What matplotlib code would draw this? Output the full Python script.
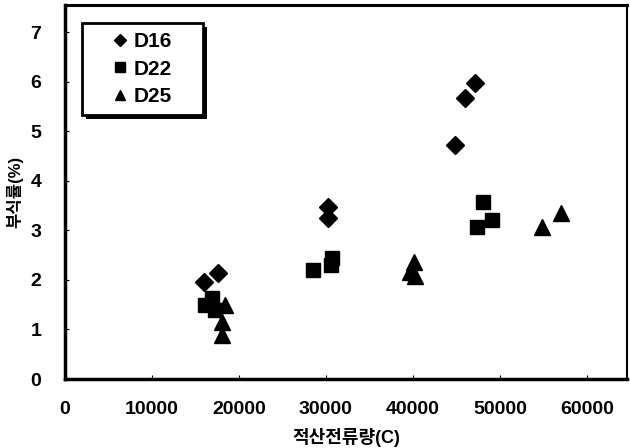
import matplotlib
matplotlib.use('Agg')
import matplotlib.pyplot as plt
from matplotlib.patches import Rectangle

plt.rcParams['font.family'] = ['Liberation Sans', 'Noto Sans CJK KR', 'DejaVu Sans']
plt.rcParams['font.weight'] = 'bold'

# D16 (diamonds)
d16_x = [16000, 17600, 30300, 30300, 44900, 46000, 47200]
d16_y = [1.96, 2.14, 3.47, 3.25, 4.72, 5.67, 5.97]

# D22 (squares)
d22_x = [16100, 16900, 17300, 28500, 30700, 30600, 47400, 48100, 49100]
d22_y = [1.49, 1.63, 1.39, 2.20, 2.44, 2.30, 3.06, 3.57, 3.20]

# D25 (triangles)
d25_x = [18400, 18100, 18100, 39700, 40100, 40300, 54900, 57000]
d25_y = [1.49, 1.15, 0.89, 2.16, 2.36, 2.08, 3.06, 3.35]

fig = plt.figure(figsize=(6.3, 4.48), dpi=100)
ax = fig.add_axes([0.103, 0.154, 0.892, 0.835])

ax.plot(d16_x, d16_y, 'D', color='black', markersize=9, label='D16')
ax.plot(d22_x, d22_y, 's', color='black', markersize=10, label='D22')
ax.plot(d25_x, d25_y, '^', color='black', markersize=11, label='D25')

ax.set_xlim(0, 64600)
ax.set_ylim(0, 7.55)
ax.set_xticks(range(0, 60001, 10000))
ax.set_yticks(range(0, 8))
ax.tick_params(direction='in', length=3, labelsize=14)
ax.tick_params(axis='x', pad=16)
ax.tick_params(axis='y', pad=17)
for lbl in ax.get_xticklabels() + ax.get_yticklabels():
    lbl.set_fontweight('bold')

ax.spines['left'].set_linewidth(2.5)
ax.spines['bottom'].set_linewidth(2.5)
ax.spines['top'].set_linewidth(2.2)
ax.spines['right'].set_linewidth(1.5)

ax.set_xlabel('적산전류량(C)', fontsize=13, fontweight='bold', labelpad=7)
ax.set_ylabel('부식률(%)', fontsize=12, fontweight='bold', labelpad=5)

# legend box with a solid shadow, drawn by hand
ax.add_patch(Rectangle((0.037, 0.695), 0.216, 0.246, transform=ax.transAxes,
                       facecolor='black', edgecolor='none', zorder=4))
ax.add_patch(Rectangle((0.030, 0.706), 0.216, 0.246, transform=ax.transAxes,
                       facecolor='white', edgecolor='black', linewidth=2, zorder=4))

leg = ax.legend(loc='upper left', bbox_to_anchor=(0.080, 0.928), borderaxespad=0,
                frameon=False, markerscale=0.7, prop={'size': 15, 'weight': 'bold'},
                handletextpad=0.15, handlelength=1.0, borderpad=0, labelspacing=0.42)
leg.set_zorder(5)

fig.savefig('out.png', dpi=100)
